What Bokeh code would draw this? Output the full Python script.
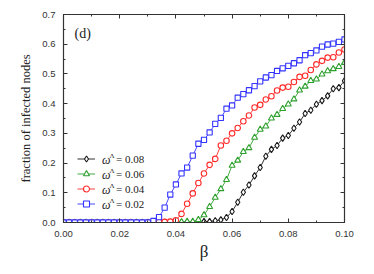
from bokeh.plotting import figure
from bokeh.models import (LinearAxis, SingleIntervalTicker, NumeralTickFormatter,
                          CustomJSTickFormatter, Legend, LegendItem, Label, Range1d)
from bokeh.embed import file_html
from bokeh.resources import INLINE

beta = [i * 0.002 for i in range(51)]

# omega^Lambda = 0.08 (black diamonds)
y08 = [0.0] * 25 + [0.003, 0.003, 0.006, 0.009, 0.017, 0.037, 0.068, 0.102, 0.126, 0.157,
                    0.185, 0.223, 0.246, 0.259, 0.284, 0.293, 0.317, 0.338, 0.367, 0.378,
                    0.398, 0.410, 0.426, 0.450, 0.454, 0.477]
# omega^Lambda = 0.06 (green triangles)
y06 = [0.0] * 21 + [0.002, 0.003, 0.003, 0.009, 0.025, 0.053, 0.084, 0.113, 0.144, 0.192,
                    0.209, 0.238, 0.251, 0.286, 0.313, 0.324, 0.351, 0.363, 0.383, 0.398,
                    0.415, 0.445, 0.458, 0.477, 0.482, 0.499, 0.510, 0.517, 0.524, 0.538]
# omega^Lambda = 0.04 (red circles)
y04 = [0.0] * 16 + [0.001, 0.002, 0.002, 0.003, 0.007, 0.029, 0.063, 0.098, 0.133, 0.165,
                    0.194, 0.214, 0.259, 0.275, 0.300, 0.318, 0.341, 0.360, 0.387, 0.396,
                    0.414, 0.425, 0.444, 0.454, 0.457, 0.473, 0.490, 0.494, 0.513, 0.532,
                    0.544, 0.555, 0.556, 0.572, 0.582]
# omega^Lambda = 0.02 (blue squares)
y02 = [0.0] * 16 + [0.005, 0.018, 0.050, 0.094, 0.128, 0.165, 0.185, 0.225, 0.265, 0.278,
                    0.303, 0.332, 0.352, 0.383, 0.394, 0.420, 0.432, 0.445, 0.459, 0.475,
                    0.488, 0.496, 0.510, 0.519, 0.527, 0.536, 0.546, 0.563, 0.570, 0.579,
                    0.592, 0.599, 0.602, 0.608, 0.616]

omega_labels = ["0.08", "0.06", "0.04", "0.02"]
series = [y08, y06, y04, y02]
colors = ["#1a1a1a", "#2ca02c", "#ff2a2a", "#3333ff"]
markers = ["diamond", "triangle", "circle", "square"]
msizes = [6.5, 6, 5.5, 5.2]

x_ticks_interval = 0.02
y_ticks_interval = 0.1

p = figure(width=366, height=266, output_backend="svg", toolbar_location=None,
           x_range=Range1d(0, 0.1), y_range=Range1d(0, 0.70001),
           min_border_left=63, min_border_right=22, min_border_top=14, min_border_bottom=44)
p.xgrid.visible = False
p.ygrid.visible = False
p.outline_line_color = None
p.background_fill_color = "white"
p.border_fill_color = "white"

axcol = "#333333"

def style_axis(ax, interval, fmt, show_labels):
    ax.ticker = SingleIntervalTicker(interval=interval, num_minor_ticks=2)
    if show_labels:
        ax.formatter = NumeralTickFormatter(format=fmt)
        ax.major_label_text_font_size = "9.5px"
        ax.major_label_standoff = 8
    else:
        ax.formatter = CustomJSTickFormatter(code="return ''")
        ax.major_label_standoff = 0
    ax.major_tick_in = 4
    ax.major_tick_out = 0
    ax.minor_tick_in = 2
    ax.minor_tick_out = 0
    ax.axis_line_color = axcol
    ax.major_tick_line_color = axcol
    ax.minor_tick_line_color = axcol
    ax.axis_line_width = 1.2
    ax.major_label_text_color = "#333333"
    ax.major_label_text_font = "Liberation Sans"

style_axis(p.xaxis[0], x_ticks_interval, "0.00", True)
style_axis(p.yaxis[0], y_ticks_interval, "0.0", True)
p.xaxis[0].axis_label = "β"
p.xaxis[0].axis_label_text_font = "Liberation Serif"
p.xaxis[0].axis_label_text_font_style = "normal"
p.xaxis[0].axis_label_text_font_size = "17px"
p.xaxis[0].axis_label_text_color = "#222222"
p.xaxis[0].axis_label_standoff = 2
p.yaxis[0].axis_label = "fraction of infected nodes"
p.yaxis[0].axis_label_text_font = "Liberation Serif"
p.yaxis[0].axis_label_text_font_style = "normal"
p.yaxis[0].axis_label_text_font_size = "12.5px"
p.yaxis[0].axis_label_text_color = "#222222"
p.yaxis[0].axis_label_standoff = 6

top = LinearAxis()
style_axis(top, x_ticks_interval, "0.00", False)
p.add_layout(top, "above")
right = LinearAxis()
style_axis(right, y_ticks_interval, "0.0", False)
p.add_layout(right, "right")

items = []
for ys, c, m, s, lab in zip(series, colors, markers, msizes, omega_labels):
    r1 = p.line(beta, ys, line_color=c, line_width=0.9)
    r2 = p.scatter(beta, ys, marker=m, size=s, line_color=c, fill_color="white", line_width=1.1)
    items.append(LegendItem(label="= " + lab, renderers=[r1, r2]))

leg = Legend(items=items, location=(14, 11), orientation="vertical",
             glyph_width=18, glyph_height=15, label_height=15, spacing=0,
             padding=0, margin=0, label_standoff=21,
             border_line_alpha=0, background_fill_alpha=0,
             label_text_font="Liberation Serif", label_text_font_size="11px",
             label_text_color="#222222")
p.add_layout(leg, "center")

for i, lab in enumerate(omega_labels):
    yc = 63.5 - 15 * i
    p.add_layout(Label(x=38.5, y=yc - 1, x_units="screen", y_units="screen", text="ω",
                       text_font="Liberation Serif", text_font_style="italic",
                       text_font_size="12px", text_baseline="middle", text_color="#222222"))
    p.add_layout(Label(x=46, y=yc + 3, x_units="screen", y_units="screen", text="Λ",
                       text_font="Liberation Serif", text_font_size="7px",
                       text_baseline="middle", text_color="#222222"))

p.add_layout(Label(x=11, y=189, x_units="screen", y_units="screen", text="(d)",
                   text_font="Liberation Serif", text_font_size="14px",
                   text_baseline="middle", text_color="#222222"))

open("out.html", "w").write(file_html(p, INLINE))
